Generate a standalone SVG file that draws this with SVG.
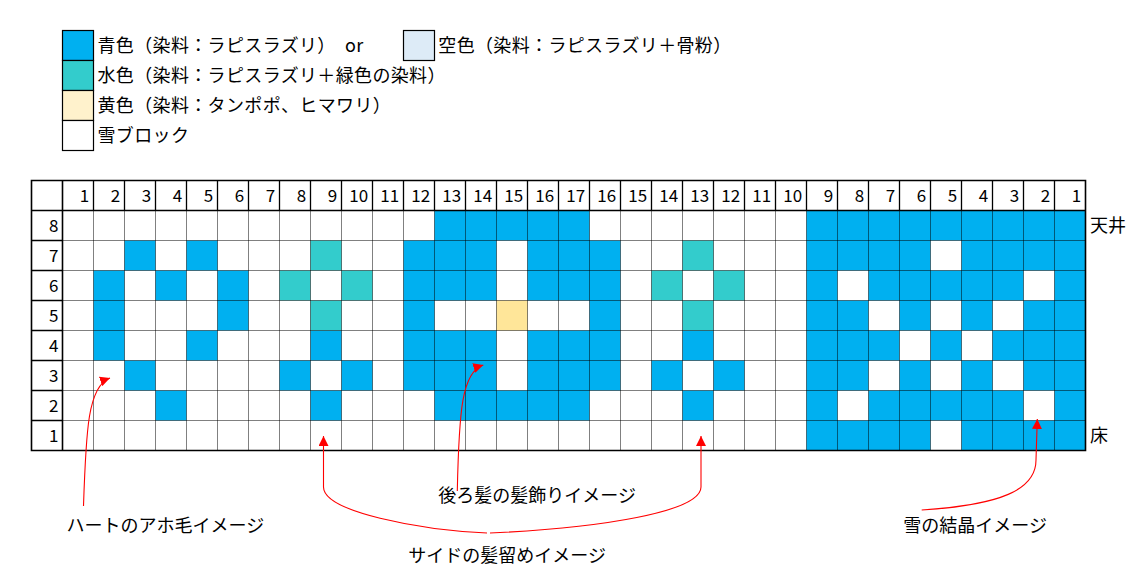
<svg xmlns="http://www.w3.org/2000/svg" width="1148" height="571" viewBox="0 0 1148 571">
<style>
text{font-family:"Noto Sans CJK JP","Noto Sans",sans-serif;fill:#000}
.lg{font-size:18px;letter-spacing:0.35px}
.an{font-size:18px}
.num{font-size:17px;text-anchor:end}
.box{stroke:#000;stroke-width:1.2}
.dot{fill:none;stroke:#000;stroke-width:1;stroke-dasharray:1 1}
.sol{fill:none;stroke:#000;stroke-width:1.3}
.out{fill:none;stroke:#000;stroke-width:1.6}
.con{fill:none;stroke:#FF0000;stroke-width:1.1}
</style>
<defs>
<marker id="ah" viewBox="0 0 10 10" refX="10" refY="5" markerWidth="10" markerHeight="10" markerUnits="userSpaceOnUse" orient="auto">
<path d="M0,0 L10,5 L0,10 z" fill="#FF0000"/>
</marker>
</defs>
<rect width="1148" height="571" fill="#fff"/>
<g id="legend">
<g id="legend-blue"><rect class="box" x="62.5" y="30.5" width="31" height="30" fill="#00B0F0"/><text class="lg" x="97.5" y="52">青色（染料：ラピスラズリ）</text><text class="lg" x="345" y="52">or</text></g>
<g id="legend-sky"><rect class="box" x="403.5" y="30.5" width="31" height="30" fill="#DDEBF7"/><text class="lg" x="438.3" y="52">空色（染料：ラピスラズリ＋骨粉）</text></g>
<g id="legend-teal"><rect class="box" x="62.5" y="60.5" width="31" height="30" fill="#33CCCC"/><text class="lg" x="97.5" y="82">水色（染料：ラピスラズリ＋緑色の染料）</text></g>
<g id="legend-yellow"><rect class="box" x="62.5" y="90.5" width="31" height="30" fill="#FFF2CC"/><text class="lg" x="97.5" y="112">黄色（染料：タンポポ、ヒマワリ）</text></g>
<g id="legend-snow"><rect class="box" x="62.5" y="120.5" width="31" height="30" fill="#fff"/><text class="lg" x="97.5" y="142">雪ブロック</text></g>
</g>
<g id="grid">
<g id="cells" transform="translate(62.5 210.5) scale(31 30)">
<path fill="#00B0F0" d="M12 0h5v1h-5z M24 0h9v1h-9z M2 1h1v1h-1z M4 1h1v1h-1z M11 1h3v2h-3z M15 1h3v2h-3z M24 1h4v1h-4z M29 1h4v1h-4z M1 2h1v3h-1z M3 2h1v1h-1z M5 2h1v2h-1z M24 2h1v1h-1z M26 2h5v1h-5z M32 2h1v1h-1z M11 3h1v1h-1z M17 3h1v1h-1z M24 3h2v1h-2z M27 3h1v1h-1z M29 3h1v1h-1z M31 3h2v1h-2z M4 4h1v1h-1z M8 4h1v1h-1z M11 4h3v2h-3z M15 4h3v2h-3z M20 4h1v1h-1z M24 4h3v1h-3z M28 4h1v1h-1z M30 4h3v1h-3z M2 5h1v1h-1z M7 5h1v1h-1z M9 5h1v1h-1z M19 5h1v1h-1z M21 5h1v1h-1z M24 5h2v1h-2z M27 5h1v1h-1z M29 5h1v1h-1z M31 5h2v1h-2z M3 6h1v1h-1z M8 6h1v1h-1z M12 6h5v1h-5z M20 6h1v1h-1z M24 6h1v1h-1z M26 6h5v1h-5z M32 6h1v1h-1z M24 7h4v1h-4z M29 7h4v1h-4z"/>
<path fill="#33CCCC" d="M8 1h1v1h-1z M7 2h1v1h-1z M9 2h1v1h-1z M8 3h1v1h-1z M20 1h1v1h-1z M19 2h1v1h-1z M21 2h1v1h-1z M20 3h1v1h-1z"/>
<path fill="#FFE699" d="M14 3h1v1h-1z"/>
</g>
<path class="dot" d="M93.5 210.5V450.5M124.5 210.5V450.5M155.5 210.5V450.5M186.5 210.5V450.5M217.5 210.5V450.5M248.5 210.5V450.5M279.5 210.5V450.5M310.5 210.5V450.5M341.5 210.5V450.5M372.5 210.5V450.5M403.5 210.5V450.5M434.5 210.5V450.5M465.5 210.5V450.5M496.5 210.5V450.5M527.5 210.5V450.5M558.5 210.5V450.5M589.5 210.5V450.5M620.5 210.5V450.5M651.5 210.5V450.5M682.5 210.5V450.5M713.5 210.5V450.5M744.5 210.5V450.5M775.5 210.5V450.5M806.5 210.5V450.5M837.5 210.5V450.5M868.5 210.5V450.5M899.5 210.5V450.5M930.5 210.5V450.5M961.5 210.5V450.5M992.5 210.5V450.5M1023.5 210.5V450.5M1054.5 210.5V450.5"/>
<path class="dot" d="M62.5 240.5H1085.5M62.5 270.5H1085.5M62.5 300.5H1085.5M62.5 330.5H1085.5M62.5 360.5H1085.5M62.5 390.5H1085.5M62.5 420.5H1085.5"/>
<path class="sol" d="M93.5 180.5V210.5M124.5 180.5V210.5M155.5 180.5V210.5M186.5 180.5V210.5M217.5 180.5V210.5M248.5 180.5V210.5M279.5 180.5V210.5M310.5 180.5V210.5M341.5 180.5V210.5M372.5 180.5V210.5M403.5 180.5V210.5M434.5 180.5V210.5M465.5 180.5V210.5M496.5 180.5V210.5M527.5 180.5V210.5M558.5 180.5V210.5M589.5 180.5V210.5M620.5 180.5V210.5M651.5 180.5V210.5M682.5 180.5V210.5M713.5 180.5V210.5M744.5 180.5V210.5M775.5 180.5V210.5M806.5 180.5V210.5M837.5 180.5V210.5M868.5 180.5V210.5M899.5 180.5V210.5M930.5 180.5V210.5M961.5 180.5V210.5M992.5 180.5V210.5M1023.5 180.5V210.5M1054.5 180.5V210.5 M31.5 240.5H62.5M31.5 270.5H62.5M31.5 300.5H62.5M31.5 330.5H62.5M31.5 360.5H62.5M31.5 390.5H62.5M31.5 420.5H62.5"/>
<path class="out" d="M31.5 180.5H1085.5V450.5H31.5Z M31.5 210.5H1085.5 M62.5 180.5V450.5"/>
<g id="col-labels">
<text class="num" x="89.2" y="202.3">1</text><text class="num" x="120.2" y="202.3">2</text><text class="num" x="151.2" y="202.3">3</text><text class="num" x="182.2" y="202.3">4</text><text class="num" x="213.2" y="202.3">5</text><text class="num" x="244.2" y="202.3">6</text><text class="num" x="275.2" y="202.3">7</text><text class="num" x="306.2" y="202.3">8</text><text class="num" x="337.2" y="202.3">9</text><text class="num" x="368.2" y="202.3">10</text><text class="num" x="399.2" y="202.3">11</text><text class="num" x="430.2" y="202.3">12</text><text class="num" x="461.2" y="202.3">13</text><text class="num" x="492.2" y="202.3">14</text><text class="num" x="523.2" y="202.3">15</text><text class="num" x="554.2" y="202.3">16</text><text class="num" x="585.2" y="202.3">17</text><text class="num" x="616.2" y="202.3">16</text><text class="num" x="647.2" y="202.3">15</text><text class="num" x="678.2" y="202.3">14</text><text class="num" x="709.2" y="202.3">13</text><text class="num" x="740.2" y="202.3">12</text><text class="num" x="771.2" y="202.3">11</text><text class="num" x="802.2" y="202.3">10</text><text class="num" x="833.2" y="202.3">9</text><text class="num" x="864.2" y="202.3">8</text><text class="num" x="895.2" y="202.3">7</text><text class="num" x="926.2" y="202.3">6</text><text class="num" x="957.2" y="202.3">5</text><text class="num" x="988.2" y="202.3">4</text><text class="num" x="1019.2" y="202.3">3</text><text class="num" x="1050.2" y="202.3">2</text><text class="num" x="1081.2" y="202.3">1</text>
</g>
<g id="row-labels">
<text class="num" x="58.5" y="231.7">8</text><text class="num" x="58.5" y="261.7">7</text><text class="num" x="58.5" y="291.7">6</text><text class="num" x="58.5" y="321.7">5</text><text class="num" x="58.5" y="351.7">4</text><text class="num" x="58.5" y="381.7">3</text><text class="num" x="58.5" y="411.7">2</text><text class="num" x="58.5" y="441.7">1</text>
</g>
</g>
<g id="label-ceiling"><text class="an" x="1090" y="232">天井</text></g>
<g id="label-floor"><text class="an" x="1090" y="442">床</text></g>
<g id="note-heart"><text class="an" x="66.5" y="532">ハートのアホ毛イメージ</text></g>
<g id="note-backhair"><text class="an" x="438.3" y="502">後ろ髪の髪飾りイメージ</text></g>
<g id="note-side"><text class="an" x="408.3" y="562">サイドの髪留めイメージ</text></g>
<g id="note-snow"><text class="an" x="903.3" y="532">雪の結晶イメージ</text></g>
<g id="connectors">
<path class="con" marker-end="url(#ah)" d="M83.5,506 C86,430 88,386 110,378"/>
<path class="con" marker-end="url(#ah)" d="M457.3,491 C459,410 462,372 483.3,365"/>
<path class="con" marker-end="url(#ah)" d="M487,533 C420,530 323.5,512 323.5,487 L323.5,436"/>
<path class="con" marker-end="url(#ah)" d="M490,533 C600,528 701,512 701,487 L701,436"/>
<path class="con" marker-end="url(#ah)" d="M921.7,510 C1000,505 1036,490 1036,460 L1037.3,419"/>
</g>
</svg>
